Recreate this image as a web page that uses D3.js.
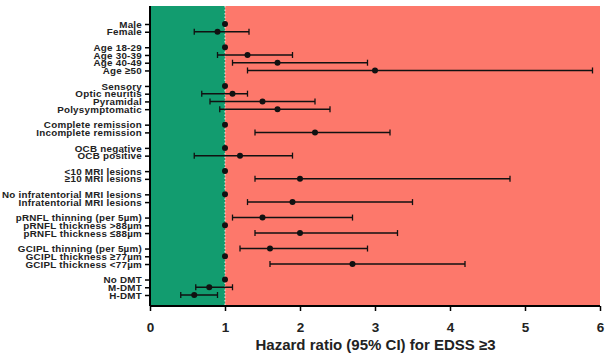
<!DOCTYPE html>
<html><head><meta charset="utf-8">
<script src="https://cdn.jsdelivr.net/npm/d3@7"></script>
<style>
body{margin:0;background:#fff;}
svg{display:block;font-family:"Liberation Sans",Arial,sans-serif;}
</style></head>
<body><svg id="c" width="607" height="356"></svg>
<script>
// Labels (null = blank spacer slot between groups)
const labels = ["Male","Female",null,"Age 18-29","Age 30-39","Age 40-49","Age \u226550",null,
 "Sensory","Optic neuritis","Pyramidal","Polysymptomatic",null,
 "Complete remission","Incomplete remission",null,"OCB negative","OCB positive",null,
 "<10 MRI lesions","\u226510 MRI lesions",null,"No infratentorial MRI lesions","Infratentorial MRI lesions",null,
 "pRNFL thinning (per 5\u00b5m)","pRNFL thickness >88\u00b5m","pRNFL thickness \u226488\u00b5m",null,
 "GCIPL thinning (per 5\u00b5m)","GCIPL thickness \u226577\u00b5m","GCIPL thickness <77\u00b5m",null,
 "No DMT","M-DMT","H-DMT"];
const hr    = [1,0.90,null,1,1.30,1.70,3.00,null,1,1.10,1.50,1.70,null,1,2.20,null,1,1.20,null,1,2.00,null,1,1.90,null,1.50,1,2.00,null,1.60,1,2.70,null,1,0.79,0.59];
const lower = [null,0.59,null,null,0.90,1.10,1.30,null,null,0.69,0.80,0.93,null,null,1.40,null,null,0.59,null,null,1.40,null,null,1.30,null,1.10,null,1.40,null,1.20,null,1.60,null,null,0.61,0.41];
const upper = [null,1.32,null,null,1.90,2.90,5.90,null,null,1.30,2.20,2.40,null,null,3.20,null,null,1.90,null,null,4.80,null,null,3.50,null,2.70,null,3.30,null,2.90,null,4.20,null,null,1.10,0.90];
const xTicks = [0,1,2,3,4,5,6];
const xTitle = "Hazard ratio (95% CI) for EDSS \u22653";

const svg = d3.select("#c");
const x = d3.scaleLinear().domain([0,6]).range([150,600]);
const slots = labels.map((d,i)=>i);
const y = d3.scalePoint().domain(slots).range([24,295]);
const yTop = 6, yBot = 306;

// background regions
svg.append("rect").attr("x",x(1)).attr("y",yTop).attr("width",x(6)-x(1)).attr("height",yBot-yTop).attr("fill","#fd786b");
svg.append("rect").attr("x",x(0)).attr("y",yTop).attr("width",x(1)-x(0)).attr("height",yBot-yTop).attr("fill","#129c6f");
svg.append("line").attr("x1",x(1)).attr("x2",x(1)).attr("y1",yTop).attr("y2",yBot)
  .attr("stroke","#e8f0e8").attr("stroke-width",1).attr("stroke-dasharray","1.5,2");

const rows = slots.filter(i=>labels[i]!==null);

// CI lines
const ci = rows.filter(i=>lower[i]!==null);
svg.append("g").selectAll("line").data(ci).join("line")
  .attr("x1",i=>x(lower[i])).attr("x2",i=>x(upper[i])).attr("y1",i=>y(i)).attr("y2",i=>y(i))
  .attr("stroke","#111").attr("stroke-width",1.5);
svg.append("g").selectAll("line").data(ci).join("line")
  .attr("x1",i=>x(lower[i])).attr("x2",i=>x(lower[i])).attr("y1",i=>y(i)-3).attr("y2",i=>y(i)+3)
  .attr("stroke","#111").attr("stroke-width",1.3);
svg.append("g").selectAll("line").data(ci).join("line")
  .attr("x1",i=>x(upper[i])).attr("x2",i=>x(upper[i])).attr("y1",i=>y(i)-3).attr("y2",i=>y(i)+3)
  .attr("stroke","#111").attr("stroke-width",1.3);
// points
svg.append("g").selectAll("circle").data(rows).join("circle")
  .attr("cx",i=>x(hr[i])).attr("cy",i=>y(i)).attr("r",3).attr("fill","#111");

// y axis
const yAxis = d3.axisLeft(y).tickValues(rows).tickFormat(i=>labels[i]).tickSize(5).tickPadding(3);
const gy = svg.append("g").attr("transform",`translate(${x(0)},0)`).call(yAxis);
gy.select(".domain").attr("d",`M0,${yTop}V${yBot}`).attr("stroke","#000").attr("stroke-width",2);
gy.selectAll(".tick line").attr("stroke","#000").attr("stroke-width",1.5);
gy.selectAll(".tick text").attr("font-size",9.8).attr("font-weight","bold").attr("fill","#222")
  .attr("font-family","'Liberation Sans',Arial,sans-serif").attr("letter-spacing","0.25");

// x axis
const xAxis = d3.axisBottom(x).tickValues(xTicks).tickFormat(d3.format("d")).tickSize(5).tickPadding(11);
const gx = svg.append("g").attr("transform",`translate(0,${yBot})`).call(xAxis);
gx.select(".domain").attr("d",`M${x(0)},0H${x(6)}`).attr("stroke","#000").attr("stroke-width",2);
gx.selectAll(".tick line").attr("stroke","#000").attr("stroke-width",1.5);
gx.selectAll(".tick text").attr("font-size",13.5).attr("font-weight","bold").attr("fill","#222")
  .attr("font-family","'Liberation Sans',Arial,sans-serif");

svg.append("text").attr("x",(x(0)+x(6))/2+0.5).attr("y",350).attr("text-anchor","middle")
  .attr("font-size",15).attr("font-weight","bold").attr("fill","#222").text(xTitle);
</script></body></html>
